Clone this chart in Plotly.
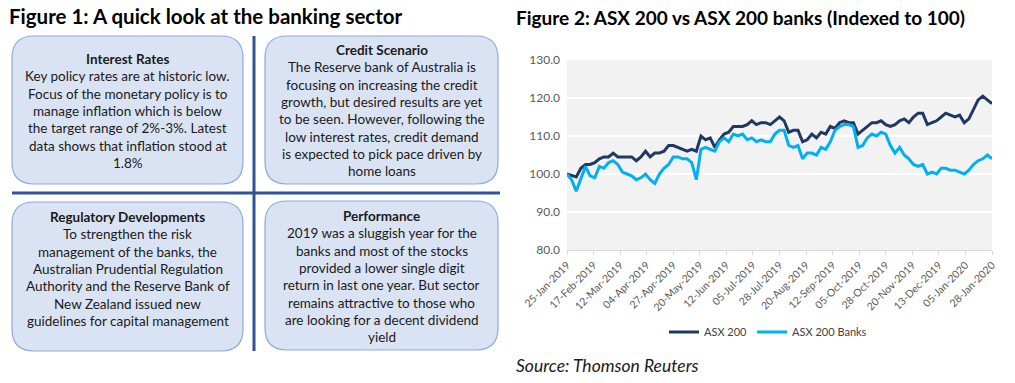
import datetime as dt
import plotly.graph_objects as go

W, H = 1015, 383

# ---------------- data ----------------
start_date = dt.date(2019, 1, 25)
step_days = 4
asx200 = [100, 99.5, 99.2, 101.5, 102.5, 102.5, 103, 104, 104.5, 104.5, 105.5, 104.5, 104.5, 104.5,
          104.5, 103.5, 104.5, 106, 104.5, 105.5, 105.5, 106, 107.5, 107.5, 107, 106.5, 106, 106.5,
          106, 110, 109, 109.5, 107, 109, 110.5, 111, 112.5, 112.5, 112.5, 113, 114, 113, 113.5,
          113.5, 113, 114, 115, 114, 111, 111.5, 111.5, 108.5, 109, 110.5, 109.5, 111, 110.5, 112.5,
          112, 113.5, 114, 113.5, 113.5, 110.5, 111.5, 112.5, 113.5, 113.5, 114, 113, 112.5, 113,
          114, 114.5, 113.5, 115, 116, 116, 113, 113.5, 114, 115, 116, 115.5, 115, 115.5, 113.5,
          114.5, 117, 119.5, 120.5, 119.5, 118.5]
asx200_banks = [100, 98.5, 95.5, 99, 102, 99.5, 99, 102, 101.5, 103, 103.5, 102.5, 100.5, 100,
                99.5, 98.5, 99, 100, 98.5, 97.5, 100, 101.5, 102.5, 104.5, 104.5, 104, 104, 103,
                98.5, 106.5, 107, 106.5, 106, 108.5, 109.5, 108.5, 110.5, 110, 110.5, 109, 109.5,
                108.5, 109, 108.5, 108.5, 110.5, 111.5, 111.5, 107.5, 107, 107.5, 104, 105.5, 105.5,
                105, 107, 106.5, 108.5, 111.5, 112.5, 113, 113, 112.5, 107, 107.5, 109.5, 110.5, 110,
                111, 110.5, 107.5, 105.5, 107, 105, 104, 102.5, 102, 102.5, 100, 100.5, 100, 101.5,
                101.5, 101, 101, 100.5, 100, 101, 102.5, 103.5, 104, 105, 104]
dates = [start_date + dt.timedelta(days=step_days * i) for i in range(len(asx200))]

tick_dates = ["2019-01-25", "2019-02-17", "2019-03-12", "2019-04-04", "2019-04-27", "2019-05-20",
              "2019-06-12", "2019-07-05", "2019-07-28", "2019-08-20", "2019-09-12", "2019-10-05",
              "2019-10-28", "2019-11-20", "2019-12-13", "2020-01-05", "2020-01-28"]
tick_labels = ["25-Jan-2019", "17-Feb-2019", "12-Mar-2019", "04-Apr-2019", "27-Apr-2019",
               "20-May-2019", "12-Jun-2019", "05-Jul-2019", "28-Jul-2019", "20-Aug-2019",
               "12-Sep-2019", "05-Oct-2019", "28-Oct-2019", "20-Nov-2019", "13-Dec-2019",
               "05-Jan-2020", "28-Jan-2020"]
y_ticks = [80, 90, 100, 110, 120, 130]

boxes = [
    ["Interest Rates", "Key policy rates are at historic low.", "Focus of the monetary policy is to",
     "manage inflation which is below", "the target range of 2%-3%. Latest",
     "data shows that inflation stood at", "1.8%"],
    ["Credit Scenario", "The Reserve bank of Australia is", "focusing on increasing the credit",
     "growth, but desired results are yet", "to be seen. However, following the",
     "low interest rates, credit demand", "is expected to pick pace driven by", "home loans"],
    ["Regulatory Developments", "To strengthen the risk", "management of the banks, the",
     "Australian Prudential Regulation", "Authority and the Reserve Bank of",
     "New Zealand issued new", "guidelines for capital management"],
    ["Performance", "2019 was a sluggish year for the", "banks and most of the stocks",
     "provided a lower single digit", "return in last one year. But sector",
     "remains attractive to those who", "are looking for a decent dividend", "yield"],
]

# ---------------- helpers ----------------
def px(x):
    return x / W


def py(y):
    return 1 - y / H


def rrect(x0, y0, x1, y1, r):
    rx, ry = r / W, r / H
    X0, X1 = px(x0), px(x1)
    Y0, Y1 = py(y0), py(y1)  # Y0 top, Y1 bottom
    return (f"M {X0+rx},{Y0} L {X1-rx},{Y0} Q {X1},{Y0} {X1},{Y0-ry} "
            f"L {X1},{Y1+ry} Q {X1},{Y1} {X1-rx},{Y1} L {X0+rx},{Y1} "
            f"Q {X0},{Y1} {X0},{Y1+ry} L {X0},{Y0-ry} Q {X0},{Y0} {X0+rx},{Y0} Z")


FONT = "Lato"
fig = go.Figure()
fig.add_trace(go.Scatter(x=dates, y=asx200, mode="lines", name="ASX 200",
                         line=dict(color="#1f3864", width=3)))
fig.add_trace(go.Scatter(x=dates, y=asx200_banks, mode="lines", name="ASX 200 Banks",
                         line=dict(color="#00b0f0", width=3)))

shapes = []
box_geo = [(12, 36, 243, 184), (265, 36, 498, 184), (12, 202, 243, 351), (265, 201, 498, 350)]
for (x0, y0, x1, y1) in box_geo:
    shapes.append(dict(type="path", xref="paper", yref="paper", path=rrect(x0, y0, x1, y1, 22),
                       fillcolor="#dae3f3", line=dict(color="#8eaadb", width=1.2), layer="below"))
shapes.append(dict(type="line", xref="paper", yref="paper", x0=px(12), x1=px(500),
                   y0=py(193), y1=py(193), line=dict(color="#2f5597", width=3)))
shapes.append(dict(type="line", xref="paper", yref="paper", x0=px(254), x1=px(254),
                   y0=py(36), y1=py(351), line=dict(color="#2f5597", width=3)))

annotations = []
starts = [59, 50, 217, 216]
centers = [127.5, 381.5, 127.5, 381.5]
LS = 17.3
for lines, y_start, cx in zip(boxes, starts, centers):
    for k, line in enumerate(lines):
        txt = f"<b>{line}</b>" if k == 0 else line
        annotations.append(dict(text=txt, x=px(cx), y=py(y_start + k * LS), xref="paper",
                                yref="paper", xanchor="center", yanchor="middle", showarrow=False,
                                font=dict(family=FONT, size=13.5, color="#1a1a1a")))

annotations.append(dict(text="<b>Figure 1: A quick look at the banking sector</b>", x=px(7),
                        y=py(16), xref="paper", yref="paper", xanchor="left", yanchor="middle",
                        showarrow=False, font=dict(family=FONT, size=20.5, color="#000000")))
annotations.append(dict(text="<b>Figure 2: ASX 200 vs ASX 200 banks (Indexed to 100)</b>",
                        x=px(514), y=py(17), xref="paper", yref="paper", xanchor="left",
                        yanchor="middle", showarrow=False,
                        font=dict(family=FONT, size=19, color="#000000")))
annotations.append(dict(text="<i>Source: Thomson Reuters</i>", x=px(514), y=py(365),
                        xref="paper", yref="paper", xanchor="left", yanchor="middle",
                        showarrow=False, font=dict(family=FONT, size=17.5, color="#1a1a1a")))

fig.update_layout(
    width=W, height=H, margin=dict(l=0, r=0, t=0, b=0, autoexpand=False),
    paper_bgcolor="white", plot_bgcolor="#f2f2f2",
    shapes=shapes, annotations=annotations,
    showlegend=True,
    legend=dict(orientation="h", x=px(768), y=py(332), xanchor="center", yanchor="middle",
                font=dict(family=FONT, size=11, color="#404040"), bgcolor="rgba(0,0,0,0)"),
    xaxis=dict(domain=[px(567), px(992)], range=[dates[0], dates[-1]], tickvals=tick_dates,
               ticktext=tick_labels, tickangle=-45, showgrid=False, zeroline=False,
               automargin=False,
               showline=True, linecolor="#d9d9d9", linewidth=1, ticks="outside", ticklen=4,
               tickcolor="#d9d9d9", tickfont=dict(family=FONT, size=10.5, color="#595959")),
    yaxis=dict(domain=[py(250), py(60)], range=[80, 130], tickvals=y_ticks, tickformat=".1f",
               automargin=False, ticklabelstandoff=6,
               showgrid=True, gridcolor="white", gridwidth=1.5, zeroline=False, showline=False,
               tickfont=dict(family=FONT, size=12, color="#595959")),
)

fig.write_html("out.html", config={"displayModeBar": False},
               post_script="document.body.style.margin='0';")
